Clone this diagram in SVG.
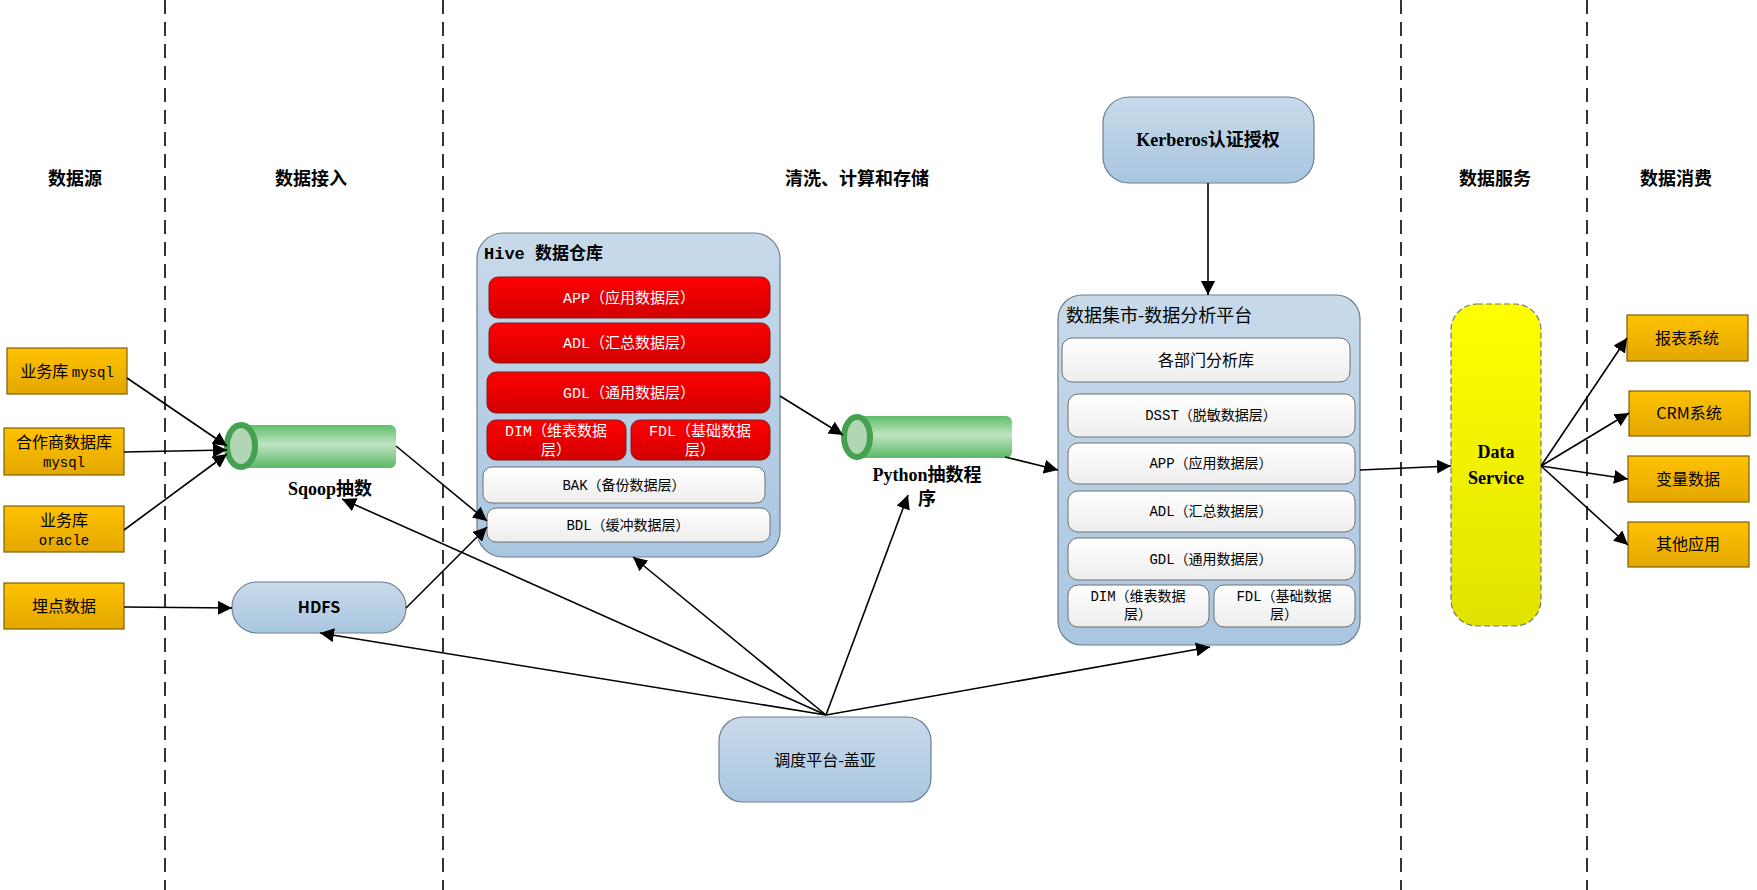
<svg xmlns="http://www.w3.org/2000/svg" width="1757" height="890" viewBox="0 0 1757 890">
<defs>
<linearGradient id="gO" x1="0" y1="0" x2="0" y2="1"><stop offset="0" stop-color="#FFC200"/><stop offset="1" stop-color="#E3A700"/></linearGradient>
<linearGradient id="gB" x1="0" y1="0" x2="0" y2="1"><stop offset="0" stop-color="#C8DAEA"/><stop offset="1" stop-color="#A9C6E0"/></linearGradient>
<linearGradient id="gR" x1="0" y1="0" x2="0" y2="1"><stop offset="0" stop-color="#FF0000"/><stop offset="1" stop-color="#D20000"/></linearGradient>
<linearGradient id="gW" x1="0" y1="0" x2="0" y2="1"><stop offset="0" stop-color="#FFFFFF"/><stop offset="1" stop-color="#EDEDED"/></linearGradient>
<linearGradient id="gY" x1="0" y1="0" x2="0" y2="1"><stop offset="0" stop-color="#FFFF00"/><stop offset="1" stop-color="#E2E200"/></linearGradient>
<linearGradient id="gG" x1="0" y1="0" x2="0" y2="1"><stop offset="0" stop-color="#5FBE6A"/><stop offset="0.45" stop-color="#BFE4C2"/><stop offset="1" stop-color="#5CB866"/></linearGradient>
<marker id="ar" viewBox="0 0 10 10" refX="10" refY="5" markerWidth="10" markerHeight="10" markerUnits="userSpaceOnUse" orient="auto"><path d="M0,0 L10,5 L0,10 z" fill="#000"/></marker>
<marker id="arL" viewBox="0 0 10 10" refX="10" refY="5" markerWidth="14" markerHeight="14" markerUnits="userSpaceOnUse" orient="auto"><path d="M0,0 L10,5 L0,10 z" fill="#000"/></marker>
</defs>
<style>
.col{font-family:"Liberation Serif","Noto Sans CJK SC",serif;font-weight:bold;font-size:18px;fill:#000;text-anchor:middle}
.dash{stroke:#333;stroke-width:2;stroke-dasharray:14,8;fill:none}
.src{fill:url(#gO);stroke:#7F6000;stroke-width:1.2}
.blue{fill:url(#gB);stroke:#6E7F90;stroke-width:1.2}
.red{fill:url(#gR);stroke:#7A2020;stroke-width:1}
.wht{fill:url(#gW);stroke:#707070;stroke-width:1}
.t{font-family:"Noto Sans CJK SC",sans-serif;font-size:16px;fill:#000;text-anchor:middle}
.tm{font-family:"Liberation Mono","Noto Sans CJK SC",monospace;font-size:14px;fill:#000;text-anchor:middle}
.tw{font-family:"Liberation Mono","Noto Sans CJK SC",monospace;font-size:15px;fill:#fff;text-anchor:middle}
.tb{font-family:"Liberation Serif","Noto Sans CJK SC",serif;font-weight:bold;font-size:18px;fill:#000;text-anchor:middle}
.ln{stroke:#000;stroke-width:1.6;fill:none;marker-end:url(#arL)}
</style>
<rect width="1757" height="890" fill="#fff"/>
<g id="lanes">
<line class="dash" x1="165" y1="0" x2="165" y2="890"/>
<line class="dash" x1="443" y1="0" x2="443" y2="890"/>
<line class="dash" x1="1401" y1="0" x2="1401" y2="890"/>
<line class="dash" x1="1587" y1="0" x2="1587" y2="890"/>
<text class="col" x="75" y="185">数据源</text>
<text class="col" x="311" y="185">数据接入</text>
<text class="col" x="857" y="185">清洗、计算和存储</text>
<text class="col" x="1495" y="185">数据服务</text>
<text class="col" x="1676" y="185">数据消费</text>
</g>
<g id="src1"><rect class="src" x="7" y="348" width="120" height="46"/><text class="t" x="67" y="377">业务库 <tspan font-family="Liberation Mono" font-size="14">mysql</tspan></text></g>
<g id="src2"><rect class="src" x="4" y="428" width="120" height="47"/><text class="t" x="64" y="448">合作商数据库</text><text class="tm" x="64" y="467">mysql</text></g>
<g id="src3"><rect class="src" x="4" y="506" width="120" height="46"/><text class="t" x="64" y="526">业务库</text><text class="tm" x="64" y="545">oracle</text></g>
<g id="src4"><rect class="src" x="4" y="583" width="120" height="46"/><text class="t" x="64" y="612">埋点数据</text></g>
<g id="sqoop">
<rect x="238" y="425" width="158" height="43" rx="6" fill="url(#gG)"/>
<ellipse cx="241" cy="446" rx="14" ry="21" fill="#B0D6B4" stroke="#45A050" stroke-width="6"/>
<text class="tb" x="330" y="495" font-size="17">Sqoop抽数</text>
</g>
<g id="hdfs"><rect class="blue" x="232" y="582" width="174" height="51" rx="25"/><text class="t" x="319" y="613" font-weight="bold">HDFS</text></g>
<g id="hive">
<rect class="blue" x="477" y="233" width="303" height="324" rx="26"/>
<text x="484" y="259" font-family="Liberation Mono,Noto Sans CJK SC,monospace" font-weight="bold" font-size="17">Hive 数据仓库</text>
<rect class="red" x="489" y="277" width="281" height="41" rx="9"/><text class="tw" x="629" y="303">APP（应用数据层）</text>
<rect class="red" x="489" y="323" width="281" height="40" rx="9"/><text class="tw" x="629" y="348">ADL（汇总数据层）</text>
<rect class="red" x="487" y="372" width="283" height="41" rx="9"/><text class="tw" x="629" y="398">GDL（通用数据层）</text>
<rect class="red" x="487" y="420" width="139" height="40" rx="9"/><text class="tw" x="556" y="436">DIM（维表数据</text><text class="tw" x="556" y="455">层）</text>
<rect class="red" x="631" y="420" width="139" height="40" rx="9"/><text class="tw" x="700" y="436">FDL（基础数据</text><text class="tw" x="700" y="455">层）</text>
<rect class="wht" x="483" y="467" width="282" height="36" rx="9"/><text class="tm" x="624" y="490">BAK（备份数据层）</text>
<rect class="wht" x="487" y="508" width="283" height="34" rx="9"/><text class="tm" x="628" y="530">BDL（缓冲数据层）</text>
</g>
<g id="python">
<rect x="855" y="416" width="157" height="42" rx="6" fill="url(#gG)"/>
<ellipse cx="857" cy="437" rx="13" ry="20" fill="#B0D6B4" stroke="#45A050" stroke-width="6"/>
<text class="tb" x="927" y="481" font-size="17">Python抽数程</text>
<text class="tb" x="927" y="505" font-size="17">序</text>
</g>
<g id="kerberos"><rect class="blue" x="1103" y="97" width="211" height="86" rx="26"/><text class="tb" x="1208" y="146">Kerberos认证授权</text></g>
<g id="mart">
<rect class="blue" x="1058" y="295" width="302" height="350" rx="24"/>
<text x="1066" y="322" font-family="Noto Sans CJK SC,sans-serif" font-size="18">数据集市-数据分析平台</text>
<rect class="wht" x="1062" y="338" width="288" height="44" rx="10" fill="#fff"/><text class="t" x="1206" y="366" font-size="15">各部门分析库</text>
<rect class="wht" x="1068" y="394" width="287" height="43" rx="10"/><text class="tm" x="1211" y="420">DSST（脱敏数据层）</text>
<rect class="wht" x="1068" y="443" width="287" height="41" rx="10"/><text class="tm" x="1211" y="468">APP（应用数据层）</text>
<rect class="wht" x="1068" y="491" width="287" height="41" rx="10"/><text class="tm" x="1211" y="516">ADL（汇总数据层）</text>
<rect class="wht" x="1068" y="538" width="287" height="42" rx="10"/><text class="tm" x="1211" y="564">GDL（通用数据层）</text>
<rect class="wht" x="1068" y="585" width="141" height="42" rx="10"/><text class="tm" x="1138" y="601">DIM（维表数据</text><text class="tm" x="1138" y="619">层）</text>
<rect class="wht" x="1214" y="585" width="141" height="42" rx="10"/><text class="tm" x="1284" y="601">FDL（基础数据</text><text class="tm" x="1284" y="619">层）</text>
</g>
<g id="dataservice"><rect x="1451" y="304" width="90" height="322" rx="26" fill="url(#gY)" stroke="#777" stroke-width="1.2" stroke-dasharray="6,3"/><text class="tb" x="1496" y="458">Data</text><text class="tb" x="1496" y="484">Service</text></g>
<g id="c1"><rect class="src" x="1627" y="315" width="121" height="46"/><text class="t" x="1687" y="344">报表系统</text></g>
<g id="c2"><rect class="src" x="1629" y="391" width="121" height="45"/><text class="t" x="1689" y="419">CRM系统</text></g>
<g id="c3"><rect class="src" x="1628" y="456" width="121" height="46"/><text class="t" x="1688" y="485">变量数据</text></g>
<g id="c4"><rect class="src" x="1628" y="522" width="121" height="45"/><text class="t" x="1688" y="550">其他应用</text></g>
<g id="sched"><rect class="blue" x="719" y="717" width="212" height="85" rx="24"/><text class="t" x="825" y="766" font-size="19">调度平台-盖亚</text></g>
<g id="connectors">
<path class="ln" d="M127,378 L227,446"/>
<path class="ln" d="M124,452 L227,450"/>
<path class="ln" d="M124,530 L227,454"/>
<path class="ln" d="M124,607 L232,608"/>
<path class="ln" d="M396,446 L487,521"/>
<path class="ln" d="M406,608 L487,527"/>
<path class="ln" d="M780,396 L843,435"/>
<path class="ln" d="M1005,457 L1058,470"/>
<path class="ln" d="M1208,183 L1208,295"/>
<path class="ln" d="M1360,470 L1451,466"/>
<path class="ln" d="M1541,466 L1627,338"/>
<path class="ln" d="M1541,466 L1629,413"/>
<path class="ln" d="M1541,466 L1628,479"/>
<path class="ln" d="M1541,466 L1628,545"/>
<path class="ln" d="M826,715 L342,499"/>
<path class="ln" d="M826,715 L633,557"/>
<path class="ln" d="M826,715 L908,495"/>
<path class="ln" d="M826,715 L320,633"/>
<path class="ln" d="M826,715 L1210,647"/>
</g>
</svg>
